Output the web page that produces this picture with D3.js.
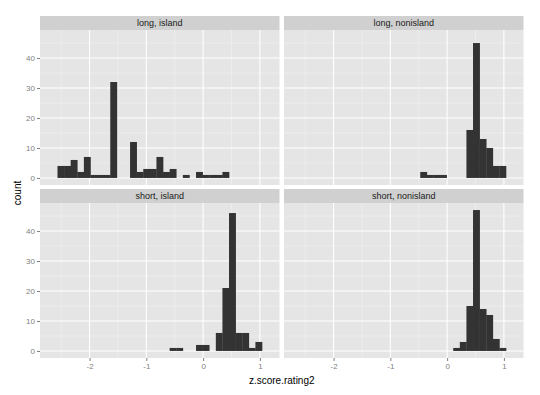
<!DOCTYPE html>
<html>
<head>
<meta charset="utf-8">
<script src="https://cdn.jsdelivr.net/npm/d3@7"></script>
<style>
  body { margin: 0; background: #fff; }
  svg { display: block; font-family: 'Liberation Sans', Arial, sans-serif; }
</style>
</head>
<body>
<svg id="chart" width="540" height="395"></svg>
<script>
// histogram bins (one empty bin padded on each side, like ggplot)
const binStart = -2.681;
const binWidth = 0.1162;

const facetLabels = ['long, island', 'long, nonisland', 'short, island', 'short, nonisland'];

const longIsland = [0, 4, 4, 6, 2, 7, 1, 1, 1, 32, 0, 0, 12, 2, 3, 3, 7, 2, 3, 0, 1, 0, 2, 1, 1, 1, 2, 0, 0, 0, 0, 0, 0];
const longNonisland = [0, 0, 0, 0, 0, 0, 0, 0, 0, 0, 0, 0, 0, 0, 0, 0, 0, 0, 0, 2, 1, 1, 1, 0, 0, 0, 16, 45, 13, 10, 4, 4, 0];
const shortIsland = [0, 0, 0, 0, 0, 0, 0, 0, 0, 0, 0, 0, 0, 0, 0, 0, 0, 0, 1, 1, 0, 0, 2, 2, 0, 6, 21, 46, 6, 6, 1, 3, 0];
const shortNonisland = [0, 0, 0, 0, 0, 0, 0, 0, 0, 0, 0, 0, 0, 0, 0, 0, 0, 0, 0, 0, 0, 0, 0, 0, 1, 3, 15, 47, 14, 12, 4, 1, 0];

const xTicks = [-2, -1, 0, 1];
const xMinor = [-2.5, -1.5, -0.5, 0.5];
const yTicks = [0, 10, 20, 30, 40];
const yMinor = [5, 15, 25, 35, 45];

const facetCounts = [longIsland, longNonisland, shortIsland, shortNonisland];

const svg = d3.select('#chart');

// layout
const panelW = 239.5;
const panelH = 155;
const stripH = 14;
const colX = [40, 284];
const rowY = [16, 189];

// scales, expanded 5% like ggplot
const nBins = longIsland.length;
const xLo = binStart;
const xHi = binStart + nBins * binWidth;
const xPad = (xHi - xLo) * 0.05;
const x = d3.scaleLinear().domain([xLo - xPad, xHi + xPad]).range([0, panelW]);

const yMax = d3.max(facetCounts, c => d3.max(c));
const y = d3.scaleLinear().domain([-yMax * 0.05, yMax * 1.05]).range([panelH, 0]);

const fmt = d => String(d);

facetCounts.forEach((counts, i) => {
  const col = i % 2;
  const row = Math.floor(i / 2);
  const g = svg.append('g')
    .attr('transform', `translate(${colX[col]},${rowY[row]})`);

  // strip
  g.append('rect')
    .attr('width', panelW).attr('height', stripH)
    .attr('fill', '#d0d0d0');
  g.append('text')
    .attr('x', panelW / 2).attr('y', stripH / 2 + 3.2)
    .attr('text-anchor', 'middle')
    .attr('font-size', 9)
    .attr('fill', '#1a1a1a')
    .text(facetLabels[i]);

  const p = g.append('g').attr('transform', `translate(0,${stripH})`);
  p.append('rect')
    .attr('width', panelW).attr('height', panelH)
    .attr('fill', '#e5e5e5');

  // minor grid
  p.selectAll('.xminor').data(xMinor).enter().append('line')
    .attr('x1', d => x(d)).attr('x2', d => x(d))
    .attr('y1', 0).attr('y2', panelH)
    .attr('stroke', '#f2f2f2').attr('stroke-width', 0.6);
  p.selectAll('.yminor').data(yMinor).enter().append('line')
    .attr('x1', 0).attr('x2', panelW)
    .attr('y1', d => y(d)).attr('y2', d => y(d))
    .attr('stroke', '#f2f2f2').attr('stroke-width', 0.6);
  // major grid
  p.selectAll('.xmajor').data(xTicks).enter().append('line')
    .attr('x1', d => x(d)).attr('x2', d => x(d))
    .attr('y1', 0).attr('y2', panelH)
    .attr('stroke', '#ffffff').attr('stroke-width', 1.1);
  p.selectAll('.ymajor').data(yTicks).enter().append('line')
    .attr('x1', 0).attr('x2', panelW)
    .attr('y1', d => y(d)).attr('y2', d => y(d))
    .attr('stroke', '#ffffff').attr('stroke-width', 1.1);

  // bars
  const bins = counts.map((c, k) => ({
    x0: binStart + k * binWidth,
    x1: binStart + (k + 1) * binWidth,
    count: c
  })).filter(d => d.count > 0);
  p.selectAll('.bar').data(bins).enter().append('rect')
    .attr('x', d => x(d.x0))
    .attr('width', d => x(d.x1) - x(d.x0) + 0.3)
    .attr('y', d => y(d.count))
    .attr('height', d => y(0) - y(d.count))
    .attr('fill', '#333333');

  // left axis
  if (col === 0) {
    const ax = p.append('g')
      .call(d3.axisLeft(y).tickValues(yTicks).tickFormat(fmt).tickSize(3).tickPadding(2));
    ax.select('.domain').remove();
    ax.selectAll('line').attr('stroke', '#7f7f7f');
    ax.selectAll('text').attr('fill', '#7f7f7f').attr('font-size', 8)
      .attr('font-family', "'Liberation Sans', Arial, sans-serif");
  }
  // bottom axis
  if (row === 1) {
    const ax = p.append('g')
      .attr('transform', `translate(0,${panelH})`)
      .call(d3.axisBottom(x).tickValues(xTicks).tickFormat(fmt).tickSize(3).tickPadding(2));
    ax.select('.domain').remove();
    ax.selectAll('line').attr('stroke', '#7f7f7f');
    ax.selectAll('text').attr('fill', '#7f7f7f').attr('font-size', 8)
      .attr('font-family', "'Liberation Sans', Arial, sans-serif");
  }
});

// axis titles
svg.append('text')
  .attr('x', (colX[0] + colX[1] + panelW) / 2)
  .attr('y', 384)
  .attr('text-anchor', 'middle')
  .attr('font-size', 10)
  .attr('fill', '#000')
  .text('z.score.rating2');

svg.append('text')
  .attr('transform', 'translate(21,193) rotate(-90)')
  .attr('text-anchor', 'middle')
  .attr('font-size', 10)
  .attr('fill', '#000')
  .text('count');
</script>
</body>
</html>
